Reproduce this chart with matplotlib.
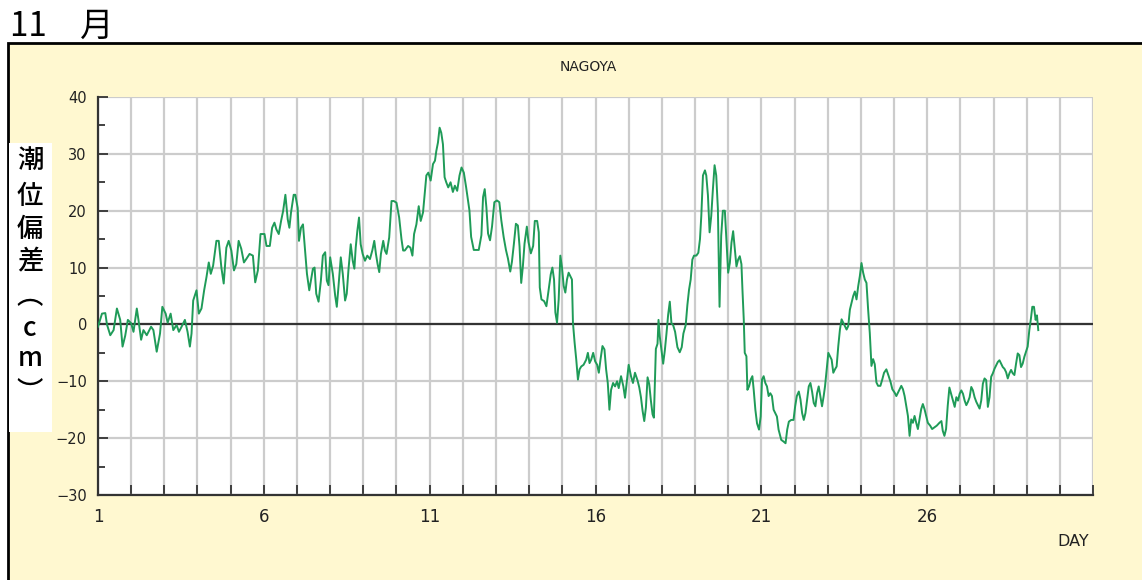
import matplotlib
matplotlib.use('Agg')
import matplotlib.pyplot as plt
from matplotlib.patches import Rectangle
from matplotlib.ticker import MultipleLocator

# Nagoya tide deviation (cm), November; x is the day of month
days_a = [1.00, 1.12, 1.22, 1.27, 1.37, 1.47, 1.57, 1.67, 1.74, 1.82, 1.90, 2.00, 2.07, 2.17, 2.22, 2.30,
          2.37, 2.47, 2.60, 2.67, 2.77, 2.87, 2.94, 3.04, 3.10, 3.19, 3.27, 3.37, 3.44, 3.52, 3.62, 3.70,
          3.77, 3.82, 3.87, 3.97, 4.04, 4.12, 4.20, 4.27, 4.34, 4.40, 4.47, 4.57, 4.64, 4.72, 4.79, 4.87,
          4.94, 5.02, 5.10, 5.17, 5.24, 5.32, 5.40, 5.47, 5.57, 5.67, 5.74, 5.82, 5.90, 6.02]
dev_a = [-0.4, 1.9, 2.0, 0.0, -1.9, -1.0, 2.8, 0.8, -3.9, -2.0, 0.8, 0.2, -1.3, 2.8, 0.8, -2.7,
         -1.0, -1.9, -0.4, -1.0, -4.8, -1.6, 3.1, 1.9, 0.3, 1.9, -1.0, -0.1, -1.3, -0.4, 0.8, -1.3,
         -3.9, -1.6, 4.2, 6.0, 1.9, 2.8, 6.0, 8.3, 10.9, 8.9, 10.3, 14.7, 14.7, 10.0, 7.2, 13.5,
         14.7, 13.0, 9.5, 10.6, 14.7, 13.3, 10.9, 11.5, 12.4, 12.1, 7.4, 9.5, 15.9, 15.9]

days_b = [6.08, 6.18, 6.25, 6.32, 6.38, 6.45, 6.52, 6.58, 6.65, 6.72, 6.77, 6.82, 6.90, 6.95, 7.02, 7.06,
          7.12, 7.18, 7.25, 7.30, 7.37, 7.42, 7.48, 7.53, 7.58, 7.65, 7.72, 7.78, 7.85, 7.90, 7.95, 8.00,
          8.08, 8.15, 8.20, 8.25, 8.32, 8.38, 8.45, 8.50, 8.55, 8.62, 8.68, 8.73, 8.77, 8.82, 8.87, 8.92,
          8.98, 9.05, 9.12, 9.20, 9.27, 9.33, 9.38, 9.43, 9.48, 9.53, 9.60, 9.65, 9.70, 9.78, 9.85, 9.92,
          10.00, 10.08, 10.15, 10.20, 10.25, 10.35, 10.42, 10.48, 10.53, 10.60, 10.67, 10.73, 10.80]
dev_b = [13.8, 13.8, 17.0, 17.9, 16.7, 15.9, 18.2, 19.9, 22.8, 18.5, 17.0, 19.7, 22.8, 22.8, 20.5, 14.7,
         17.0, 17.6, 12.4, 8.9, 6.0, 7.7, 9.8, 10.0, 5.4, 4.0, 7.7, 12.1, 12.7, 7.7, 6.9, 11.8,
         8.9, 5.1, 3.1, 6.6, 11.8, 8.9, 4.2, 5.4, 9.5, 14.1, 11.2, 9.8, 13.5, 16.5, 18.8, 14.1,
         12.4, 11.2, 12.1, 11.5, 13.0, 14.7, 12.4, 10.6, 9.2, 12.4, 14.7, 13.0, 12.4, 15.3, 21.7, 21.7,
         21.4, 18.8, 15.0, 13.0, 13.0, 13.8, 13.5, 12.1, 15.9, 17.6, 20.8, 18.2, 19.7]

days_c = [10.90, 10.96, 11.03, 11.10, 11.16, 11.20, 11.25, 11.30, 11.35, 11.40, 11.45, 11.50, 11.56,
          11.63, 11.70, 11.76, 11.83, 11.90, 11.96, 12.03, 12.10, 12.15, 12.20, 12.25, 12.33, 12.48,
          12.56, 12.61, 12.66, 12.71, 12.76, 12.82, 12.88, 12.95, 13.03, 13.10, 13.16, 13.23, 13.30,
          13.36, 13.43, 13.48, 13.54, 13.60, 13.66, 13.71, 13.76, 13.81, 13.86, 13.93, 13.98, 14.05]
dev_c = [26.2, 26.7, 25.3, 28.2, 28.8, 30.5, 32.0, 34.6, 33.7, 31.7, 25.9, 25.0, 24.1,
         25.0, 23.3, 24.4, 23.5, 26.2, 27.6, 26.7, 24.1, 22.1, 20.0, 15.4, 13.1, 13.1,
         15.7, 22.4, 23.8, 20.6, 16.0, 14.8, 17.2, 21.5, 21.8, 21.5, 18.3, 15.4, 13.1,
         11.6, 9.3, 11.0, 14.2, 17.7, 17.4, 13.7, 7.3, 10.2, 14.2, 17.2, 14.5, 12.5]

days_d = [14.12, 14.17, 14.24, 14.29, 14.32, 14.37, 14.45, 14.52, 14.59, 14.65, 14.70, 14.75, 14.79,
          14.84, 14.89, 14.94, 14.99, 15.04, 15.09, 15.14, 15.19, 15.24, 15.29, 15.32, 15.37, 15.42,
          15.47, 15.52, 15.57, 15.64, 15.72, 15.77, 15.82, 15.87, 15.93, 15.99, 16.05, 16.10, 16.15,
          16.21, 16.27, 16.32, 16.37, 16.42, 16.47, 16.53, 16.59, 16.65, 16.70, 16.77, 16.84, 16.89,
          16.94, 17.00, 17.07, 17.13, 17.19]
dev_d = [13.8, 18.2, 18.2, 16.2, 6.5, 4.4, 4.1, 3.2, 6.2, 8.8, 10.0, 7.9, 2.1,
         0.3, 4.4, 12.1, 10.0, 6.8, 5.6, 7.9, 9.1, 8.5, 7.9, 0.3, -3.2, -6.2,
         -9.7, -7.9, -7.4, -7.1, -6.2, -5.0, -6.8, -6.2, -5.0, -6.5, -7.1, -8.5, -6.2,
         -3.8, -4.4, -7.9, -10.3, -15.0, -11.5, -10.3, -10.9, -10.0, -11.2, -9.1, -10.9, -12.9,
         -10.3, -7.1, -9.1, -10.3, -8.5]

days_e = [17.27, 17.32, 17.37, 17.42, 17.47, 17.52, 17.57, 17.62, 17.67, 17.72, 17.76, 17.79, 17.82,
          17.87, 17.90, 17.94, 17.99, 18.04, 18.09, 18.14, 18.19, 18.24, 18.29, 18.34, 18.40, 18.47,
          18.54, 18.60, 18.65, 18.72, 18.77, 18.82, 18.87, 18.92, 18.97, 19.04, 19.10, 19.15, 19.19,
          19.24, 19.30, 19.34, 19.39, 19.44, 19.49, 19.54, 19.59, 19.64, 19.69, 19.74, 19.79, 19.84,
          19.90, 19.94, 20.00, 20.05, 20.10, 20.15, 20.20, 20.25, 20.30, 20.35]
dev_e = [-9.9, -11.1, -12.8, -15.2, -17.0, -14.6, -9.3, -10.5, -13.4, -15.8, -16.4, -10.5, -4.3,
         -3.4, 0.8, -2.2, -4.6, -6.9, -4.6, -1.6, 1.7, 4.0, 0.2, -0.1, -1.3, -4.0,
         -4.9, -4.0, -1.6, -0.1, 3.4, 6.1, 7.9, 11.4, 12.1, 12.1, 12.6, 15.0, 19.1,
         26.2, 27.1, 26.2, 22.7, 16.2, 19.1, 23.8, 28.0, 26.2, 20.3, 3.1, 15.6, 20.0,
         20.0, 15.6, 9.1, 10.8, 14.4, 16.4, 13.2, 10.2, 11.4, 12.0]

days_f = [20.40, 20.43, 20.47, 20.50, 20.55, 20.58, 20.63, 20.68, 20.73, 20.77, 20.82, 20.87, 20.93,
          20.98, 21.02, 21.07, 21.12, 21.17, 21.22, 21.27, 21.32, 21.37, 21.42, 21.47, 21.52, 21.60,
          21.67, 21.73, 21.78, 21.83, 21.90, 21.97, 22.02, 22.07, 22.13, 22.18, 22.23, 22.28, 22.33,
          22.38, 22.43, 22.48, 22.53, 22.58, 22.63, 22.68, 22.73, 22.78, 22.83, 22.88, 22.92, 22.97,
          23.02, 23.07, 23.12, 23.17, 23.22, 23.27, 23.32, 23.37, 23.42, 23.47]
dev_f = [10.6, 6.2, 0.9, -5.0, -5.6, -11.5, -10.9, -9.7, -9.1, -11.5, -15.0, -17.4, -18.5,
         -16.2, -9.7, -9.1, -10.3, -10.9, -12.6, -12.1, -12.6, -15.0, -15.6, -16.2, -18.5, -20.3,
         -20.6, -20.9, -18.5, -17.1, -16.8, -16.8, -14.4, -12.6, -11.8, -13.2, -15.6, -16.8, -15.6,
         -13.2, -10.9, -10.3, -11.8, -13.8, -14.4, -12.1, -10.9, -12.6, -14.4, -12.6, -10.9, -7.9,
         -5.0, -5.6, -6.2, -8.5, -7.9, -7.4, -3.8, -0.9, 0.9, 0.3]

days_g = [23.57, 23.62, 23.67, 23.72, 23.77, 23.82, 23.87, 23.92, 23.97, 24.02, 24.07, 24.12, 24.17,
          24.22, 24.27, 24.32, 24.37, 24.42, 24.47, 24.52, 24.59, 24.65, 24.70, 24.77, 24.84, 24.90,
          24.95, 25.02, 25.07, 25.12, 25.17, 25.22, 25.27, 25.32, 25.37, 25.42, 25.47, 25.52, 25.57,
          25.62, 25.67, 25.72, 25.77, 25.82, 25.87, 25.92, 25.97, 26.02, 26.09, 26.15, 26.22, 26.29,
          26.37, 26.43, 26.47, 26.52, 26.57, 26.62, 26.67]
dev_g = [-0.9, -0.3, 2.6, 3.8, 5.0, 5.8, 4.4, 6.7, 8.5, 10.8, 9.1, 7.9, 7.3,
         2.6, -1.5, -7.3, -6.1, -7.0, -10.2, -10.8, -10.8, -9.6, -8.5, -7.9, -9.1, -10.2,
         -11.4, -12.0, -12.6, -12.0, -11.4, -10.8, -11.4, -12.6, -14.3, -16.1, -19.6, -16.7, -17.3,
         -16.1, -17.3, -18.4, -16.7, -14.9, -14.0, -14.9, -16.1, -17.3, -17.8, -18.4, -18.1, -17.8,
         -17.3, -17.0, -18.7, -19.6, -18.4, -14.3, -11.1]

days_h = [26.78, 26.83, 26.88, 26.93, 26.98, 27.03, 27.08, 27.13, 27.18, 27.23, 27.28, 27.33, 27.38,
          27.43, 27.48, 27.53, 27.58, 27.63, 27.68, 27.73, 27.78, 27.83, 27.88, 27.93, 27.98, 28.03,
          28.08, 28.13, 28.18, 28.23, 28.28, 28.33, 28.38, 28.43, 28.48, 28.53, 28.58, 28.63, 28.68,
          28.73, 28.78, 28.83, 28.88, 28.93, 28.98, 29.03, 29.08, 29.13, 29.17, 29.22, 29.27, 29.31,
          29.35]
dev_h = [-13.4, -14.5, -12.8, -13.4, -12.2, -11.6, -12.2, -13.4, -14.2, -13.6, -12.8, -11.0, -11.6,
         -12.8, -13.6, -14.2, -14.8, -13.4, -10.4, -9.5, -9.8, -14.5, -12.8, -9.2, -8.6, -7.8,
         -7.2, -6.6, -6.3, -6.9, -7.5, -7.8, -8.4, -9.5, -8.6, -8.0, -8.6, -8.9, -6.9,
         -5.1, -5.4, -7.5, -6.9, -5.7, -4.8, -3.9, -1.0, 1.1, 3.1, 3.1, 0.8, 1.6,
         -1.0]

x_labels = ['1', '6', '11', '16', '21', '26']
y_ticks = [-30, -20, -10, 0, 10, 20, 30, 40]
ylabel_chars = ['潮', '位', '偏', '差', '︵', 'c', 'm', '︶']

W, H = 1142, 580
CREAM = '#fff8d0'
GREEN = '#1f9b58'


def fx(px):
    return px / W


def fy(py):
    return 1 - py / H


def main():
    days = days_a + days_b + days_c + days_d + days_e + days_f + days_g + days_h
    dev = dev_a + dev_b + dev_c + dev_d + dev_e + dev_f + dev_g + dev_h

    fig = plt.figure(figsize=(W / 100, H / 100), dpi=100)
    fig.patch.set_facecolor('white')

    # cream panel with black frame, kept behind the axes
    fig.patches.append(Rectangle((fx(8), -0.05), 1.2, fy(43) + 0.05, transform=fig.transFigure,
                                 facecolor=CREAM, edgecolor='black', lw=2, zorder=-2))
    # white box behind the vertical y label
    fig.patches.append(Rectangle((fx(9), fy(432)), fx(43), fy(143) - fy(432), transform=fig.transFigure,
                                 facecolor='white', edgecolor='none', zorder=-1))

    fig.text(fx(10), fy(36), '11\u3000月', fontsize=24, family=['Noto Sans CJK JP', 'DejaVu Sans'],
             ha='left', va='baseline')

    ax = fig.add_axes([fx(98), fy(495), fx(1093 - 98), fy(97) - fy(495)])
    ax.set_zorder(2)
    ax.set_facecolor('white')
    ax.plot(days, dev, color=GREEN, lw=1.4, zorder=4)
    ax.axhline(0, color='#333333', lw=1.6, zorder=3)

    ax.set_xlim(1, 31)
    ax.set_ylim(-30, 40)
    ax.set_xticks(range(1, 32))
    ax.set_xticklabels([str(d) if str(d) in x_labels else '' for d in range(1, 32)])
    ax.set_yticks(y_ticks)
    ax.yaxis.set_minor_locator(MultipleLocator(5))

    ax.grid(True, which='major', color='#cccccc', lw=1.6, zorder=0)
    ax.set_axisbelow(True)

    for side in ('top', 'right'):
        ax.spines[side].set_visible(False)
    for side in ('left', 'bottom'):
        ax.spines[side].set_color('#333333')
        ax.spines[side].set_linewidth(1.6)

    ax.tick_params(axis='both', which='major', direction='in', length=7, width=1.3, color='#333333',
                   labelcolor='#222222')
    ax.tick_params(axis='y', which='minor', direction='in', length=5, width=1.3, color='#333333')
    ax.tick_params(axis='x', labelsize=12, pad=9)
    ax.tick_params(axis='y', labelsize=10.5, pad=8)

    fig.text(fx(588), fy(67), 'NAGOYA', fontsize=10, ha='center', va='center', color='#222222')
    fig.text(fx(1073), fy(542), 'DAY', fontsize=11.5, ha='center', va='center', color='#222222')

    ypos = [160, 196, 229, 262, 297, 328, 359, 392]
    for ch, py in zip(ylabel_chars, ypos):
        fig.text(fx(30), fy(py), ch, fontsize=19, fontweight='medium', ha='center', va='center',
                 family=['Noto Sans CJK JP', 'DejaVu Sans'], zorder=5)

    fig.savefig('out.png', dpi=100, facecolor=fig.get_facecolor())
    plt.close(fig)


if __name__ == '__main__':
    main()
